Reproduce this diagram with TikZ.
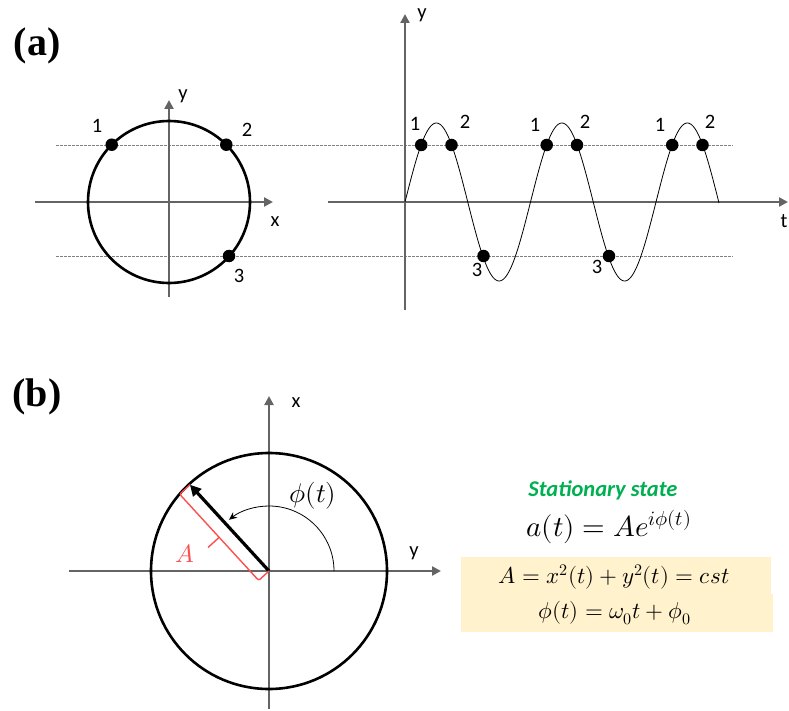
\documentclass[tikz,border=0pt]{standalone}
\usepackage{fontspec}
\usepackage{unicode-math}
\setmainfont{Liberation Serif}
\setsansfont{Carlito}
\setmathfont{Latin Modern Math}
\usetikzlibrary{arrows.meta,calc}
\definecolor{axgray}{RGB}{100,100,100}
\definecolor{dashgray}{RGB}{130,130,130}
\definecolor{bracered}{RGB}{250,80,80}
\definecolor{stgreen}{RGB}{0,176,80}
\definecolor{beige}{RGB}{255,242,204}
\tikzset{
  axis/.style={draw=axgray,line width=2.6pt,-{Triangle[length=9pt,width=9pt]}},
  guide/.style={draw=dashgray,line width=0.6pt,dash pattern=on 2.5pt off 1.5pt},
  dot/.style={circle,fill=black,inner sep=0pt,minimum size=12.5pt},
  lbl/.style={font=\sffamily\fontsize{20.5}{24}\selectfont,inner sep=0pt},
  panel/.style={font={\rmfamily\bfseries\fontsize{40}{44}\selectfont},inner sep=0pt},
  bigcirc/.style={draw=black,line width=2.6pt}
}
\begin{document}
\begin{tikzpicture}[x=1pt,y=-1pt]
\useasboundingbox (0,0) rectangle (789,711);
% ---------- (a) ----------
\node[panel] (pa) at (37,46) {(a)};
\draw[guide] (56,145) -- (733,145);
\draw[guide] (56,256) -- (733,256);
% left circle
\coordinate (ca) at (169,202);
\coordinate (axl) at (35,202);
\coordinate (axr) at (273,202);
\coordinate (ayb) at (169,297);
\coordinate (ayt) at (169,100);
\draw[axis] (axl) -- (axr);
\draw[axis] (ayb) -- (ayt);
\draw[bigcirc] (ca) circle[radius=81];
\node[dot] (p1) at ($(ca)+(-135:81)$) {};
\node[dot] (p2) at ($(ca)+(-45:81)$) {};
\node[dot] (p3) at (229,256) {};
\node[lbl] at (97,126) {1};
\node[lbl] at (247,130) {2};
\node[lbl] at (239,276) {3};
\node[lbl] at (183,96) {y};
\node[lbl] at (275,222) {x};
% right plot
\coordinate (o2) at (405,202);
\coordinate (tl) at (328,202);
\coordinate (tr) at (788,202);
\coordinate (yb) at (405,310);
\coordinate (yt) at (405,14);
\draw[axis] (tl) -- (tr);
\draw[axis] (yb) -- (yt);
\draw[black,line width=0.8pt] plot[domain=0:314,samples=240,smooth] ({\x+405},{202-79*sin(2.8685*\x)});
\foreach \k/\n in {0/a,1/b,2/c}{
  \node[dot] (q1\n) at ({405+16.2+125.5*\k},145) {};
  \node[dot] (q2\n) at ({405+46.5+125.5*\k},145) {};
}
\node[dot] (q3a) at (483.5,256) {};
\node[dot] (q3b) at (609,256) {};
\node[lbl] at (415,124) {1};
\node[lbl] at (465,122) {2};
\node[lbl] at (535,125) {1};
\node[lbl] at (585,122) {2};
\node[lbl] at (660,125) {1};
\node[lbl] at (710,122) {2};
\node[lbl] at (477,270) {3};
\node[lbl] at (597,267) {3};
\node[lbl] at (422,15) {y};
\node[lbl] at (784,221) {t};
% ---------- (b) ----------
\node[panel] (pb) at (37,397) {(b)};
\coordinate (cb) at (269,571);
\coordinate (bxl) at (69,571);
\coordinate (bxr) at (441,571);
\coordinate (byb) at (269,709);
\coordinate (byt) at (269,396);
\draw[axis] (bxl) -- (bxr);
\draw[axis] (byb) -- (byt);
\draw[bigcirc] (cb) circle[radius=118];
\node[lbl] at (296,403) {x};
\node[lbl] at (414,553) {y};
\coordinate (tip) at ($(cb)+(-132.5:117)$);
\draw[line width=3.2pt,-{Triangle[length=11pt,width=11pt]}] (cb) -- (tip);
% angle arc
\draw[line width=0.8pt,-{Stealth[length=8pt,width=7pt]}] ($(cb)+(0:65)$) arc[start angle=0,end angle=-128,radius=65];
\node[font=\fontsize{27}{30}\selectfont,inner sep=0pt] at (313,496) {$\phi(t)$};
% red bracket
\coordinate (bt) at ($(tip)!14pt!-90:(cb)$);
\coordinate (bo) at ($(cb)!14pt!90:(tip)$);
\coordinate (mid) at ($(bt)!0.5!(bo)$);
\coordinate (mt) at ($(mid)!15pt!-90:(bo)$);
\draw[bracered,line width=1.4pt,rounded corners=2pt] (tip) -- (bt) -- (bo) -- (cb);
\draw[bracered,line width=1.4pt] (mid) -- (mt);
\node[text=bracered,font=\fontsize{25}{28}\selectfont,inner sep=0pt] at (185,554) {$A$};
% right equations
\fill[beige] (461,557) rectangle (771,594);
\fill[beige] (461,594) rectangle (773,632);
\node[text=stgreen,font=\sffamily\bfseries\itshape\fontsize{22.5}{26}\selectfont,inner sep=0pt] (st) at (603,490) {Stationary state};
\node[font=\fontsize{29}{33}\selectfont,inner sep=0pt] (at) at (609,527) {$a(t)=Ae^{i\phi(t)}$};
\node[font=\fontsize{23}{27}\selectfont,inner sep=0pt] (e1) at (614,577) {$A=x^2(t)+y^2(t)=cst$};
\node[font=\fontsize{23}{27}\selectfont,inner sep=0pt] (e2) at (615,613) {$\phi(t)=\omega_0 t+\phi_0$};
\end{tikzpicture}
\end{document}
